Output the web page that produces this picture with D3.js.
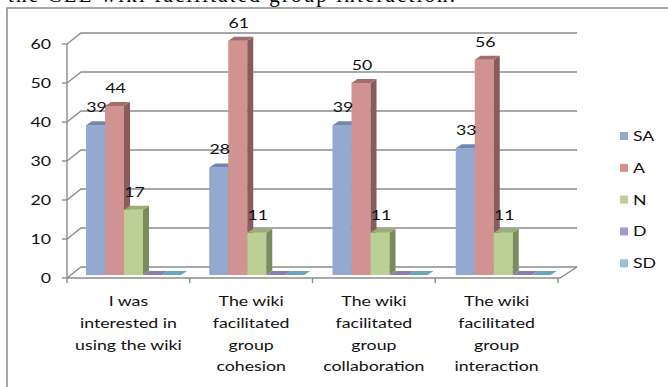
<!DOCTYPE html>
<html>
<head>
<meta charset="utf-8">
<script src="https://cdn.jsdelivr.net/npm/d3@7"></script>
<style>
  html, body { margin: 0; padding: 0; background: #fff; }
  svg { display: block; }
</style>
</head>
<body>
<svg id="chart" width="668" height="387"></svg>
<script>
const categories = [
  ["I was", "interested in", "using the wiki"],
  ["The wiki", "facilitated", "group", "cohesion"],
  ["The wiki", "facilitated", "group", "collaboration"],
  ["The wiki", "facilitated", "group", "interaction"]
];
const seriesNames = ["SA", "A", "N", "D", "SD"];
const SA = [39, 28, 39, 33];
const A  = [44, 61, 50, 56];
const N  = [17, 11, 11, 11];
const D  = [0, 0, 0, 0];
const SD = [0, 0, 0, 0];
const yTicks = [0, 10, 20, 30, 40, 50, 60];
const caption = "the CLE wiki facilitated group interaction.";

const seriesValues = [SA, A, N, D, SD];
const front = ["#94a9cf", "#d09392", "#bcd096", "#a899c2", "#93c4d4"];
const topC  = ["#7287b0", "#a46d6c", "#9aad74", "#8e7da8", "#6aa5b8"];
const side  = ["#687ba0", "#8a5b5b", "#7c8b5d", "#7a6a94", "#5a8fa0"];
const legendC = ["#94a9cf", "#d09392", "#bcd096", "#a899c2", "#93c4d4"];

const FONT = "Lato, sans-serif";
const FS = 13.6;

const svg = d3.select("#chart");

// calibrate horizontal stretch of the reference text
const probe = svg.append("text").attr("font-family", FONT).attr("font-size", FS).text("interested in");
const SX = 97 / probe.node().getComputedTextLength();
probe.remove();

function addText(g, x, y, str, anchor) {
  g.append("text")
    .attr("transform", `translate(${x},${y}) scale(${SX},1)`)
    .attr("text-anchor", anchor || "middle")
    .attr("font-family", FONT).attr("font-size", FS).attr("fill", "#111")
    .text(str);
}

// caption (cut off at top)
svg.append("text")
  .attr("x", 8).attr("y", 2)
  .attr("font-family", "Liberation Serif, Times New Roman, serif")
  .attr("font-size", 21)
  .attr("textLength", 447)
  .attr("fill", "#000")
  .text(caption);

// frame
svg.append("rect")
  .attr("x", 7).attr("y", 8).attr("width", 680).attr("height", 400)
  .attr("fill", "none").attr("stroke", "#8a8a8a").attr("stroke-width", 1.5);

const catIdx = categories.map((c, i) => i);
const x0 = d3.scaleBand().domain(catIdx).range([67, 558]);
const xb = d3.scaleBand().domain(catIdx).range([67, 560]);
const x1 = d3.scaleBand().domain(seriesNames).range([19, 114]);
const yG = d3.scaleLinear().domain([0, 60]).range([278, 44]);
const yB = d3.scaleLinear().domain([0, 60]).range([275, 44.5]);

const DX = 14, DY = -11;   // wall depth
const BX = 6, BY = -4;     // bar depth

const grid = svg.append("g").attr("stroke", "#8c8c8c").attr("stroke-width", 1.4).attr("fill", "none");
yTicks.forEach(v => {
  const y = yG(v);
  grid.append("path").attr("d", `M67,${y}L${67 + DX},${y + DY}L577,${y + DY}`);
});
grid.append("path").attr("d", `M67,${yG(0)}L560,${yG(0)}L577,${yG(0) + DY}`);
grid.append("line").attr("x1", 67).attr("x2", 67).attr("y1", yG(60)).attr("y2", yG(0));
yTicks.forEach(v => {
  grid.append("line").attr("x1", 62).attr("x2", 67).attr("y1", yG(v)).attr("y2", yG(v));
});
[0, 1, 2, 3].forEach(i => {
  grid.append("line").attr("x1", x0(i)).attr("x2", x0(i)).attr("y1", yG(0)).attr("y2", yG(0) + 5);
});
grid.append("line").attr("x1", 558).attr("x2", 558).attr("y1", yG(0)).attr("y2", yG(0) + 5);

// y tick labels
const yl = svg.append("g");
yTicks.forEach(v => addText(yl, 51, yG(v) + 5, v, "end"));

// bars
const bars = svg.append("g");
const labels = svg.append("g");
catIdx.forEach(ci => {
  seriesNames.forEach((s, si) => {
    const v = seriesValues[si][ci];
    const x = xb(ci) + x1(s);
    const w = x1.bandwidth();
    const yb = yB(0), yt = yB(v);
    if (v > 0) {
      bars.append("rect").attr("x", x).attr("y", yt).attr("width", w).attr("height", yb - yt)
        .attr("fill", front[si]);
      bars.append("path")
        .attr("d", `M${x + w},${yt}L${x + w + BX},${yt + BY}L${x + w + BX},${yb + BY}L${x + w},${yb}Z`)
        .attr("fill", side[si]);
    }
    bars.append("path")
      .attr("d", `M${x},${yt}L${x + w},${yt}L${x + w + BX},${yt + BY}L${x + BX},${yt + BY}Z`)
      .attr("fill", topC[si]);
    if (v > 0) addText(labels, x + w / 2 + 1, yt - 13, v, "middle");
  });
});

// category labels
const cl = svg.append("g");
categories.forEach((lines, ci) => {
  lines.forEach((ln, li) => {
    addText(cl, x0(ci) + x0.bandwidth() / 2, 306 + li * 21.8, ln, "middle");
  });
});

// legend
const lg = svg.append("g");
seriesNames.forEach((s, i) => {
  const y = 136 + i * 31.8;
  lg.append("rect").attr("x", 620).attr("y", y - 4).attr("width", 8).attr("height", 8).attr("fill", legendC[i]);
  addText(lg, 633, y + 5, s, "start");
});
</script>
</body>
</html>
